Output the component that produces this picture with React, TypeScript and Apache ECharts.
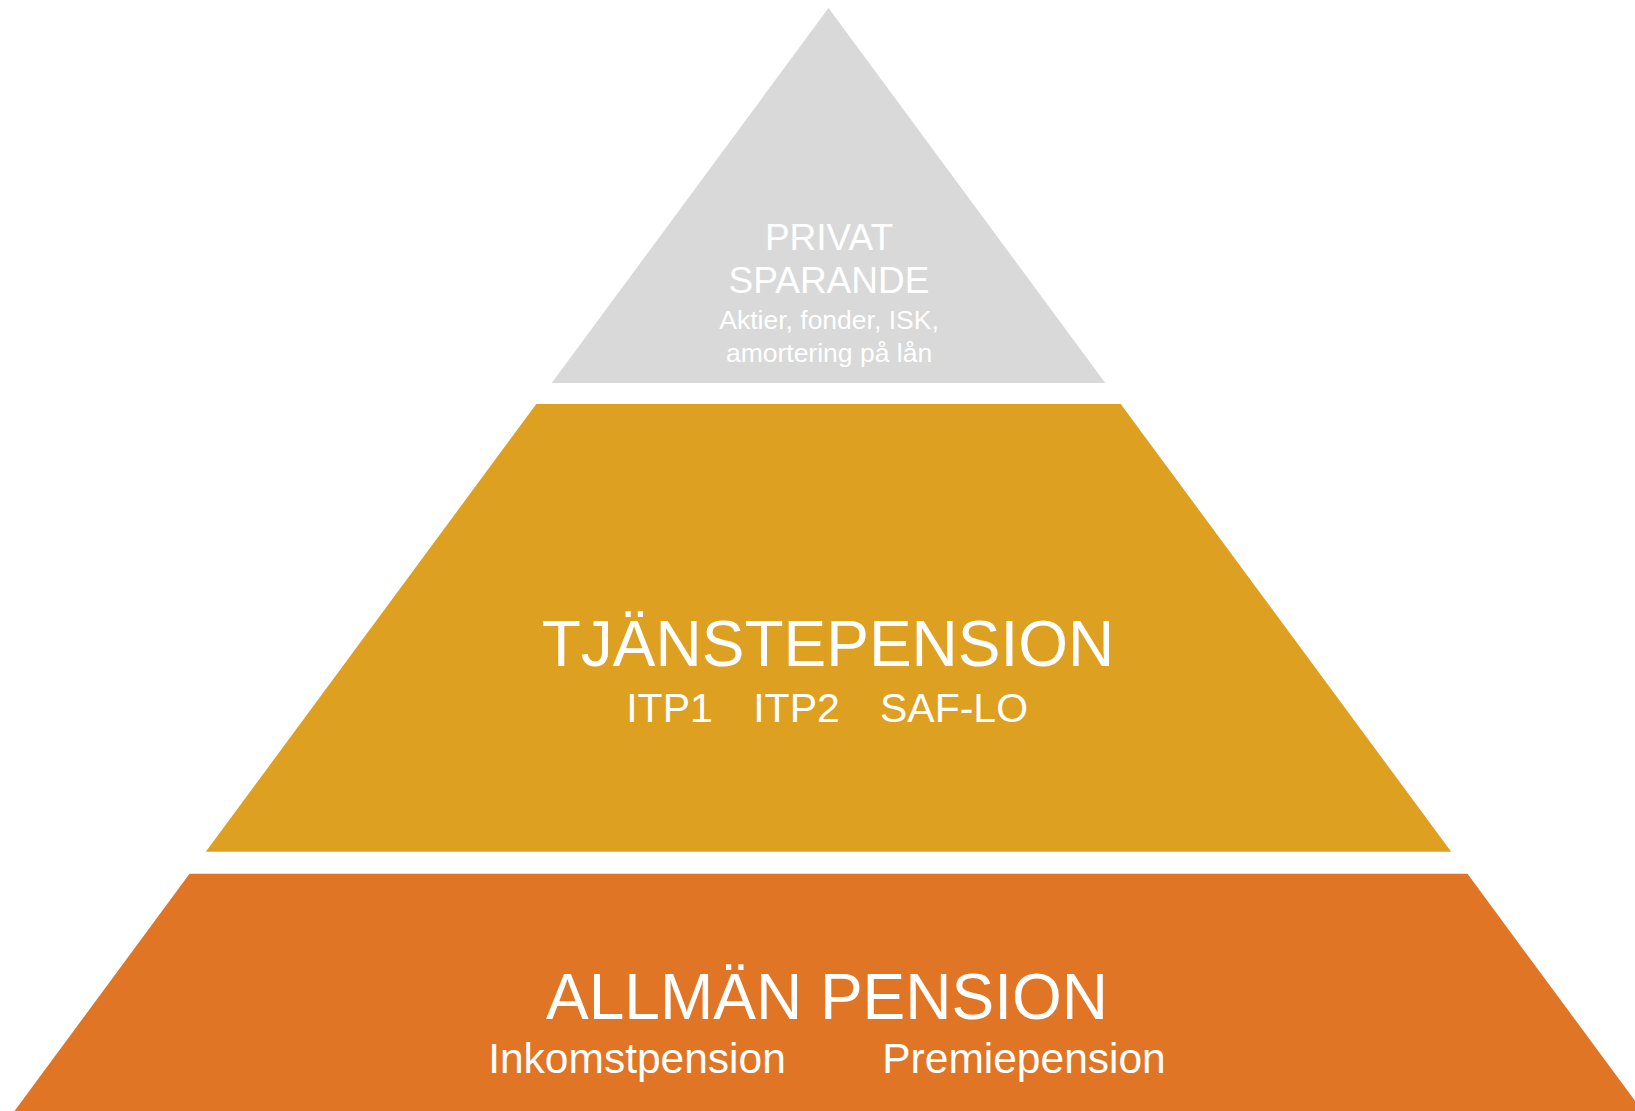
import React, { useEffect, useRef } from "react";
import * as echarts from "echarts";

// Pyramid layers, bottom to top. Levels are in % of pyramid height (0 = base, 100 = apex).
const layerNames = ["ALLMÄN PENSION", "TJÄNSTEPENSION", "PRIVAT SPARANDE"];
const layerBottom = [0, 23.5, 66.0];
const layerTop = [21.5, 64.1, 100];
const layerColors = ["#E07526", "#DDA020", "#D9D9D9"];
const APEX_LEVEL = 100;

// Texts
const allmanTitle = "ALLMÄN PENSION";
const allmanSubs = ["Inkomstpension", "Premiepension"];
const tjanstTitle = "TJÄNSTEPENSION";
const tjanstSubs = ["ITP1", "ITP2", "SAF-LO"];
const privatTitle = ["PRIVAT", "SPARANDE"];
const privatSubs = ["Aktier, fonder, ISK,", "amortering på lån"];

const FONT = '"Liberation Sans", Arial, Helvetica, sans-serif';

// Layout: pyramid centre and base half-width in pixels
const W = 1635;
const H = 1111;
const CENTER_X = 828.5;
const BASE_HALF = 814;

function txt(text: string, x: number, y: number, size: number) {
  return {
    type: "text",
    x,
    y,
    silent: true,
    z: 100,
    style: {
      text,
      fill: "#FFFFFF",
      font: `${size}px ${FONT}`,
      textAlign: "center",
      textVerticalAlign: "middle",
      verticalAlign: "middle",
    },
  };
}

export default function App() {
  const ref = useRef<HTMLDivElement>(null);

  useEffect(() => {
    document.body.style.margin = "0";
    if (!ref.current) return;
    const chart = echarts.init(ref.current, undefined, { renderer: "svg" });

    const data = layerBottom.map((b, i) => [i, b, layerTop[i]]);
    const hw = (v: number) => 1 - v / APEX_LEVEL;

    const graphics: any[] = [
      // Private savings
      txt(privatTitle[0], 829, 237.5, 37),
      txt(privatTitle[1], 829, 280.5, 37),
      txt(privatSubs[0], 829, 320, 26.5),
      txt(privatSubs[1], 829, 352.5, 26.5),
      // Occupational pension
      txt(tjanstTitle, 828, 643.5, 64),
      txt(tjanstSubs[0], 669.5, 707.7, 41),
      txt(tjanstSubs[1], 796.5, 707.7, 41),
      txt(tjanstSubs[2], 954, 707.7, 41),
      // General pension
      txt(allmanTitle, 827, 996.6, 64),
      txt(allmanSubs[0], 637, 1058.8, 42.5),
      txt(allmanSubs[1], 1024, 1058.8, 42.5),
    ];

    chart.setOption({
      animation: false,
      backgroundColor: "#FFFFFF",
      grid: {
        left: 0,
        right: 0,
        top: 8,
        bottom: 0,
        containLabel: false,
        outerBoundsMode: "none",
      },
      xAxis: {
        type: "value",
        min: -CENTER_X / BASE_HALF,
        max: (W - CENTER_X) / BASE_HALF,
        show: false,
      },
      yAxis: { type: "value", min: 0, max: APEX_LEVEL, show: false },
      tooltip: { show: false },
      series: [
        {
          type: "custom",
          name: "pyramid",
          clip: false,
          data,
          encode: { x: 0, y: [1, 2] },
          renderItem: (params: any, api: any) => {
            const i = api.value(0);
            const b = api.value(1);
            const t = api.value(2);
            const p1 = api.coord([-hw(b), b]);
            const p2 = api.coord([hw(b), b]);
            const p3 = api.coord([hw(t), t]);
            const p4 = api.coord([-hw(t), t]);
            return {
              type: "polygon",
              name: layerNames[i],
              shape: { points: [p1, p2, p3, p4] },
              style: { fill: layerColors[i] },
            };
          },
        },
      ],
      graphic: graphics,
    });

    return () => chart.dispose();
  }, []);

  return (
    <div
      ref={ref}
      style={{
        position: "relative",
        width: W,
        height: H,
        background: "#FFFFFF",
      }}
    />
  );
}
